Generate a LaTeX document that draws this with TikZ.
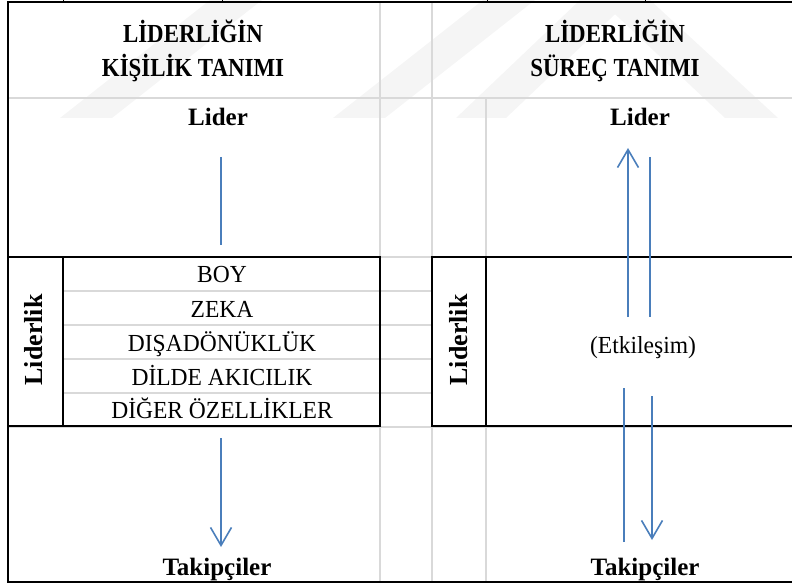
\documentclass[tikz,border=0pt]{standalone}
\usepackage{fontspec}
\setmainfont{Liberation Serif}
\newfontfamily\headfont{Liberation Serif}[FakeStretch=0.88]
\newfontfamily\traitfont{Liberation Serif}[FakeStretch=0.96]
\usetikzlibrary{arrows.meta}
\definecolor{flowblue}{HTML}{4A7EBB}
\definecolor{gridgray}{HTML}{D9D9D9}
\tikzset{
    gridline/.style={gridgray, line width=1.5pt},
    frameline/.style={black, line width=2.8pt},
    boxline/.style={black, line width=2pt},
    flowline/.style={flowblue, line width=1.6pt},
    flowarrow/.style={flowline, -{Straight Barb[length=18pt,width=21pt]}},
    headtext/.style={font=\headfont\fontsize{26}{30}\selectfont\bfseries, anchor=base, inner sep=0pt},
    roletext/.style={font=\fontsize{25}{30}\selectfont\bfseries, anchor=base, inner sep=0pt},
    sidetext/.style={font=\fontsize{26}{30}\selectfont\bfseries, rotate=90, anchor=center, inner sep=0pt},
    traittext/.style={font=\traitfont\fontsize{24.5}{30}\selectfont, anchor=base, inner sep=0pt},
    wmband/.style={fill=black!4, draw=none},
}
\begin{document}
\begin{tikzpicture}[x=1pt, y=-1pt]
\useasboundingbox (0,0) rectangle (792,585);

% faint background stripes
\fill[wmband] (60,118) -- (112,118) -- (262,0) -- (210,0) -- cycle;
\fill[wmband] (333,118) -- (385,118) -- (535,0) -- (483,0) -- cycle;
\fill[wmband] (456,118) -- (506,118) -- (630,0) -- (580,0) -- cycle;
\fill[wmband] (600,0) -- (650,0) -- (778,118) -- (725,118) -- cycle;

% table grid
\draw[gridline] (8,98) -- (792,98);
\draw[gridline] (8,257) -- (792,257);
\draw[gridline] (8,427) -- (792,427);
\draw[gridline] (380,2) -- (380,582);
\draw[gridline] (432,2) -- (432,582);
\draw[gridline] (486,98) -- (486,582);
\foreach \y in {291,325,359,393}
    \draw[gridline] (63,\y) -- (432,\y);

% outer frame and column ticks
\draw[frameline] (795,2) -- (8,2) -- (8,582) -- (795,582);
\foreach \x in {63,222,487,645}
    \draw[black, line width=1pt] (\x,0) -- (\x,2);

% trait box
\draw[boxline] (8,257) rectangle (380,426);
\draw[boxline] (63,257) -- (63,426);

% process box
\draw[boxline] (795,257) -- (432,257) -- (432,426) -- (795,426);
\draw[boxline] (486,257) -- (486,426);

% headings
\node[headtext] (traitHead1) at (193,43) {LİDERLİĞİN};
\node[headtext] (traitHead2) at (193,77) {KİŞİLİK TANIMI};
\node[headtext] (procHead1) at (615,43) {LİDERLİĞİN};
\node[headtext] (procHead2) at (615,77) {SÜREÇ TANIMI};

\node[roletext] (traitLeader) at (218,126) {Lider};
\node[roletext] (procLeader) at (640,126) {Lider};
\node[roletext] (traitFollow) at (217,575) {Takipçiler};
\node[roletext] (procFollow) at (645,575) {Takipçiler};

\node[sidetext] (traitSide) at (34,340) {Liderlik};
\node[sidetext] (procSide) at (459,340) {Liderlik};

% traits
\node[traittext] (boy) at (222,283) {BOY};
\node[traittext] (zeka) at (222,317) {ZEKA};
\node[traittext] (disa) at (222,351) {DIŞADÖNÜKLÜK};
\node[traittext] (dilde) at (222,385) {DİLDE AKICILIK};
\node[traittext] (diger) at (222,418) {DİĞER ÖZELLİKLER};

\node[traittext] (etki) at (643,353) {(Etkileşim)};

% one-way flow
\coordinate (tA) at (221,157);
\coordinate (tB) at (221,245);
\coordinate (tC) at (221,438);
\coordinate (tD) at (221,547);
\draw[flowline] (tA) -- (tB);
\draw[flowarrow] (tC) -- (tD);

% two-way flow
\coordinate (pUpS) at (628,317);
\coordinate (pUpE) at (628,148);
\coordinate (pDnS) at (650,157);
\coordinate (pDnE) at (650,317);
\draw[flowarrow] (pUpS) -- (pUpE);
\draw[flowline] (pDnS) -- (pDnE);

\coordinate (qUpS) at (624,542);
\coordinate (qUpE) at (624,388);
\coordinate (qDnS) at (652,396);
\coordinate (qDnE) at (652,540);
\draw[flowline] (qUpS) -- (qUpE);
\draw[flowarrow] (qDnS) -- (qDnE);
\end{tikzpicture}
\end{document}
